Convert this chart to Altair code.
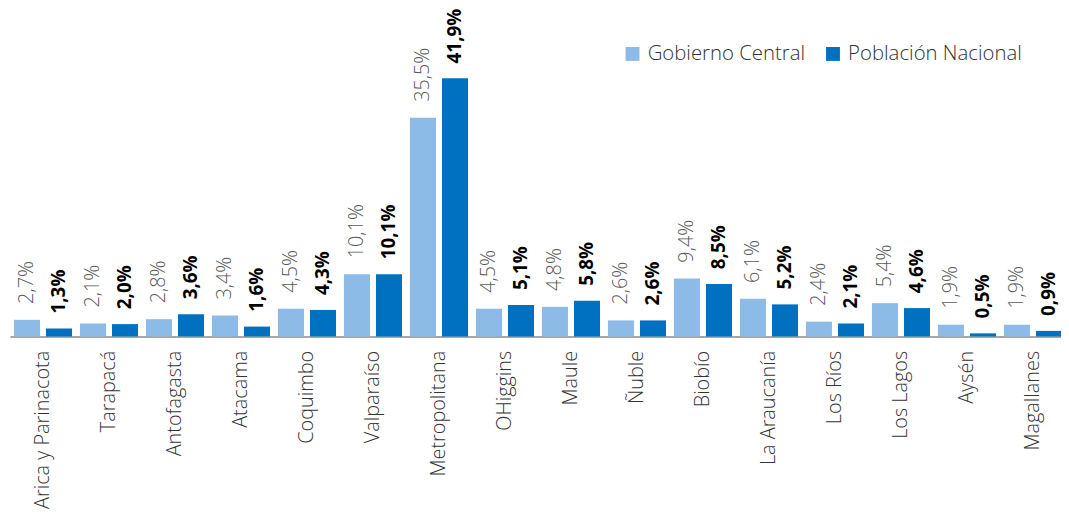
import altair as alt
import pandas as pd

regions = ["Arica y Parinacota", "Tarapacá", "Antofagasta", "Atacama", "Coquimbo",
           "Valparaíso", "Metropolitana", "OHiggins", "Maule", "Ñuble", "Biobío",
           "La Araucanía", "Los Ríos", "Los Lagos", "Aysén", "Magallanes"]
gobierno = [2.7, 2.1, 2.8, 3.4, 4.5, 10.1, 35.5, 4.5, 4.8, 2.6, 9.4, 6.1, 2.4, 5.4, 1.9, 1.9]
poblacion = [1.3, 2.0, 3.6, 1.6, 4.3, 10.1, 41.9, 5.1, 5.8, 2.6, 8.5, 5.2, 2.1, 4.6, 0.5, 0.9]
series = ["Gobierno Central", "Población Nacional"]
colors = ["#8DBBE7", "#0071C1"]

rows = []
for r, g, p in zip(regions, gobierno, poblacion):
    for s, v in zip(series, [g, p]):
        rows.append({"region": r, "serie": s, "valor": v,
                     "label": f"{v:.1f}".replace(".", ",") + "%"})
df = pd.DataFrame(rows)

FONT = "Open Sans"

x = alt.X("region:N", sort=regions, title=None,
          scale=alt.Scale(paddingInner=0.12, paddingOuter=0.06),
          axis=alt.Axis(labelAngle=270, labelAlign="right", labelBaseline="middle",
                        ticks=False, labelPadding=14, labelFontSize=20,
                        labelFontWeight=300,
                        labelColor="#333333", labelFont=FONT,
                        domainColor="#a6a6a6", domainWidth=2, labelLimit=300))
xo = alt.XOffset("serie:N", sort=series,
                 scale=alt.Scale(domain=series, paddingInner=0.1875, paddingOuter=0))
y = alt.Y("valor:Q", axis=None, scale=alt.Scale(domain=[0, 53]))

base = alt.Chart(df)

bars = base.mark_bar().encode(
    x=x, xOffset=xo, y=y,
    color=alt.Color("serie:N", sort=series,
                    scale=alt.Scale(domain=series, range=colors),
                    legend=alt.Legend(title=None, orient="none", legendX=617, legendY=34,
                                      direction="horizontal", symbolType="square",
                                      symbolSize=196, symbolStrokeWidth=0,
                                      labelFontSize=20.5, labelFont=FONT,
                                      labelFontWeight=300, labelLimit=0,
                                      labelColor="#333333", labelOffset=5,
                                      columnPadding=17, padding=0)),
)

txt_light = base.mark_text(angle=270, align="left", baseline="middle", dx=16,
                           fontSize=20, font=FONT, fontWeight=300, color="#595959").encode(
    x=x, xOffset=xo, y=y, text="label:N"
).transform_filter(alt.datum.serie == series[0])

txt_dark = base.mark_text(angle=270, align="left", baseline="middle", dx=15,
                          fontSize=19, font=FONT, fontWeight="bold", color="#000000").encode(
    x=x, xOffset=xo, y=y, text="label:N"
).transform_filter(alt.datum.serie == series[1])

chart = alt.layer(bars, txt_light, txt_dark).properties(
    width=1064, height=329,
    autosize=alt.AutoSizeParams(type="none"),
    padding={"left": 2, "top": 0, "right": -5, "bottom": 178},
).configure_view(stroke=None)

chart.save("out.html", embed_options={"renderer": "svg", "actions": False})
